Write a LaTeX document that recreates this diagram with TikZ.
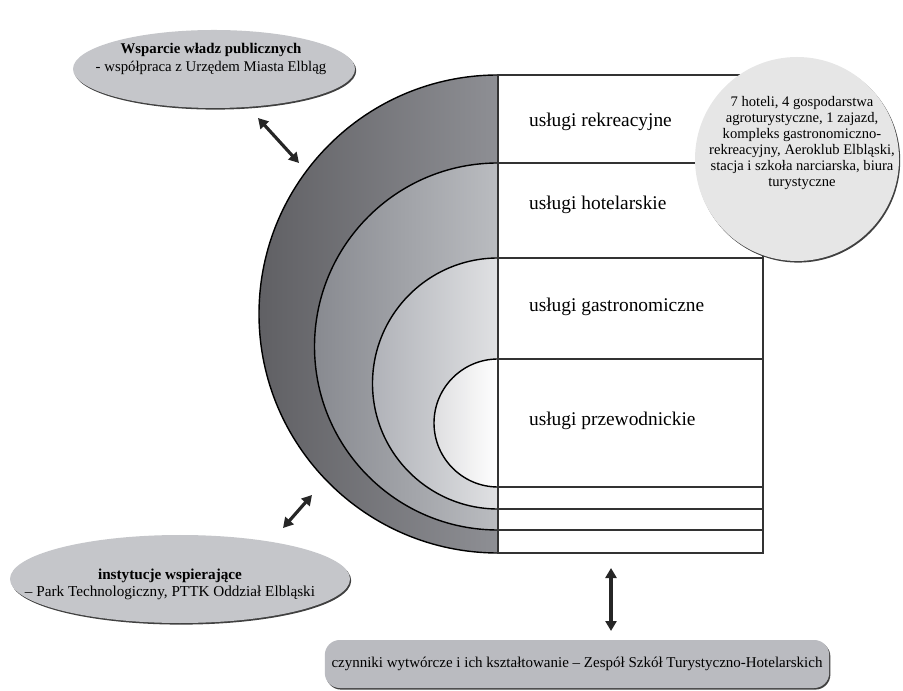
\documentclass[tikz,border=0pt]{standalone}
\usepackage{fontspec}
\setmainfont{Liberation Serif}
\usetikzlibrary{shapes.geometric,shadows,arrows.meta}
\definecolor{ovalgray}{HTML}{C5C6CA}
\definecolor{bubblegray}{HTML}{E6E6E6}
\definecolor{boxgray}{HTML}{BABBC0}
\definecolor{edgegray}{HTML}{333333}

\begin{document}
\begin{tikzpicture}[x=0.5pt,y=0.5pt,
  smalltext/.style={font=\fontsize{7.4}{9}\selectfont, align=center},
  bigtext/.style={font=\fontsize{9.7}{11.6}\selectfont, anchor=west},
  darkedge/.style={drop shadow={shadow xshift=0.6pt,shadow yshift=-0.8pt,fill=black!75,opacity=1}},
  oval/.style={ellipse, fill=ovalgray, darkedge},
  link/.style={{Triangle[length=5pt,width=5.5pt]}-{Triangle[length=5pt,width=5.5pt]}, line width=1.6pt, black!85},
  ring/.style={draw=black, line width=0.7pt},
  row/.style={draw=edgegray, line width=0.8pt}]
  % bounding box
  \useasboundingbox (0,0) rectangle (903,690);
  % Half circles
  \path[ring, left color={rgb,255:red,96;green,96;blue,100}, right color={rgb,255:red,142;green,143;blue,148}]
    (498,615) arc[start angle=90,end angle=270,radius=239] -- cycle;
  \path[ring, left color={rgb,255:red,136;green,138;blue,144}, right color={rgb,255:red,186;green,188;blue,192}]
    (498,527) arc[start angle=90,end angle=270,radius=183.5] -- cycle;
  \path[ring, left color={rgb,255:red,176;green,178;blue,184}, right color={rgb,255:red,224;green,225;blue,227}]
    (498,432) arc[start angle=90,end angle=270,radius=125.5] -- cycle;
  \path[ring, left color={rgb,255:red,222;green,222;blue,224}, right color=white]
    (498,331) arc[start angle=90,end angle=270,radius=64] -- cycle;
  % Rows
  \draw[row] (498,615) rectangle (763,137);
  \foreach \y in {527,432,331,203,181,160}
    \draw[row] (498,\y) -- (763,\y);
  \node[bigtext] (rekreacja) at (522,568) {usługi rekreacyjne};
  \node[bigtext] (hotele) at (522,485) {usługi hotelarskie};
  \node[bigtext] (gastro) at (522,383) {usługi gastronomiczne};
  \node[bigtext] (przewodnicy) at (522,269) {usługi przewodnickie};
  % Bubble
  \node[circle, minimum size=102pt, fill=bubblegray, darkedge] (bubble) at (797,531) {};
  \node[smalltext, font=\fontsize{7.3}{8}\selectfont] (bubbletxt) at (802,547)
    {7 hoteli, 4 gospodarstwa\\agroturystyczne, 1 zajazd,\\kompleks gastronomiczno-\\rekreacyjny, Aeroklub Elbląski,\\stacja i szkoła narciarska, biura\\turystyczne};
  % Ovals
  \node[oval, minimum width=141pt, minimum height=39pt] (wladze) at (214,621) {};
  \node[smalltext] (wladzetxt) at (211,631)
    {\textbf{Wsparcie władz publicznych}\\- współpraca z Urzędem Miasta Elbląg};
  \node[oval, minimum width=170pt, minimum height=44pt] (instytucje) at (180,111) {};
  \node[smalltext, font=\fontsize{7.6}{8.6}\selectfont] (instytucjetxt) at (170,106)
    {\textbf{instytucje wspierające}\\– Park Technologiczny, PTTK Oddział Elbląski};
  \node[rounded corners=7.5pt, fill=boxgray, darkedge, minimum width=235pt, minimum height=24pt,
    smalltext, font=\fontsize{7.5}{9}\selectfont] (czynniki) at (577,26)
    {czynniki wytwórcze i ich kształtowanie – Zespół Szkół Turystyczno-Hotelarskich};
  % Arrows
  \coordinate (w1) at (258,572);
  \coordinate (w2) at (299,527);
  \coordinate (i1) at (283,162);
  \coordinate (i2) at (312,195);
  \coordinate (c1) at (611,122);
  \coordinate (c2) at (611,59);
  \draw[link] (w1) -- (w2);
  \draw[link] (i1) -- (i2);
  \draw[link] (c1) -- (c2);
\end{tikzpicture}
\end{document}
